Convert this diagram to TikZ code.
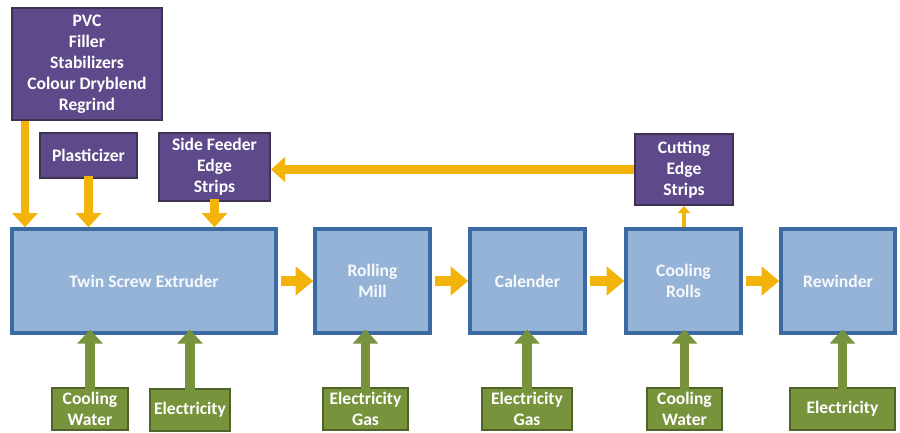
\documentclass[tikz,border=0pt]{standalone}
\usepackage{fontspec}
\setmainfont{Carlito}
\usepackage{tikz}
\usetikzlibrary{arrows.meta,calc}
\definecolor{MoradoCaja}{RGB}{94,74,138}
\definecolor{MoradoBorde}{RGB}{63,49,81}
\definecolor{AzulCaja}{RGB}{149,179,215}
\definecolor{AzulBorde}{RGB}{60,106,160}
\definecolor{VerdeCaja}{RGB}{119,147,60}
\definecolor{VerdeBorde}{RGB}{79,98,40}
\definecolor{NaranjaFlujo}{RGB}{242,180,10}
\tikzset{
  base/.style={inner sep=0pt,align=center,font=\bfseries\fontsize{10}{12}\selectfont},
  materia/.style={base,fill=MoradoCaja,draw=MoradoBorde,line width=1.2pt,text=white},
  equipo/.style={base,fill=AzulCaja,draw=AzulBorde,line width=2pt,text=white!92!AzulCaja,
    minimum width=2.3cm,minimum height=2.08cm},
  servicio/.style={base,fill=VerdeCaja,draw=VerdeBorde,line width=1.5pt,text=white,minimum height=0.84cm},
  flujo/.style={NaranjaFlujo,line width=5pt,-{Triangle[width=14pt,length=8pt]}},
  proceso/.style={NaranjaFlujo,line width=6pt,-{Triangle[width=16pt,length=10pt]}},
  flujofino/.style={NaranjaFlujo,line width=2.2pt,-{Triangle[width=7pt,length=4pt]}},
  energia/.style={VerdeCaja,line width=5.5pt,-{Triangle[width=14pt,length=8pt]}}
}
\begin{document}
\begin{tikzpicture}[x=0.02cm,y=-0.02cm]
  \useasboundingbox (0,0) rectangle (900,433);
  % materias primas
  \node[materia,minimum width=3.0cm,minimum height=2.24cm] (pvc) at (87,64)
    {PVC\\Filler\\Stabilizers\\Colour Dryblend\\Regrind};
  \node[materia,minimum width=1.94cm,minimum height=0.9cm] (plast) at (88.5,155.5) {Plasticizer};
  \node[materia,minimum width=2.22cm,minimum height=1.36cm] (side) at (214.5,167) {Side Feeder\\Edge\\Strips};
  \node[materia,minimum width=1.96cm,minimum height=1.42cm] (cut) at (684,169.5) {Cutting\\Edge\\Strips};
  % linea de equipos
  \node[equipo,minimum width=5.28cm] (ext) at (144,281) {Twin Screw Extruder};
  \node[equipo] (mill) at (372.5,281) {Rolling\\Mill};
  \node[equipo] (cal) at (527.5,281) {Calender};
  \node[equipo] (cool) at (683.5,281) {Cooling\\Rolls};
  \node[equipo,minimum width=2.28cm] (rew) at (838,281) {Rewinder};
  % servicios
  \node[servicio,minimum width=1.52cm] (cw1) at (90,409) {Cooling\\Water};
  \node[servicio,minimum width=1.6cm] (el1) at (190,410) {Electricity};
  \node[servicio,minimum width=1.7cm] (eg1) at (365.5,409) {Electricity\\Gas};
  \node[servicio,minimum width=1.8cm] (eg2) at (527,409) {Electricity\\Gas};
  \node[servicio,minimum width=1.5cm] (cw2) at (684.5,409) {Cooling\\Water};
  \node[servicio,minimum width=2.1cm] (el3) at (842.5,409) {Electricity};
  % alimentacion
  \draw[flujo] ([xshift=8]pvc.south west) -- ([xshift=8]pvc.south west |- ext.north);
  \draw[flujo] ([yshift=2]plast.south) -- (plast.south |- ext.north);
  \draw[flujo] ([yshift=2]side.south) -- (side.south |- ext.north);
  \draw[flujo] (cut.west) -- (cut.west -| side.east);
  \draw[flujofino] (cool.north -| cut.south) -- (cut.south);
  % proceso
  \draw[proceso] ([xshift=2]ext.east) -- (mill.west);
  \draw[proceso] ([xshift=2]mill.east) -- (cal.west);
  \draw[proceso] ([xshift=2]cal.east) -- (cool.west);
  \draw[proceso] ([xshift=2]cool.east) -- (rew.west);
  % energia y agua
  \foreach \s in {cw1,el1,eg1,eg2,cw2,el3}
    \draw[energia] ([yshift=-2]\s.north) -- ([yshift=3]\s.north |- ext.south);
\end{tikzpicture}
\end{document}
